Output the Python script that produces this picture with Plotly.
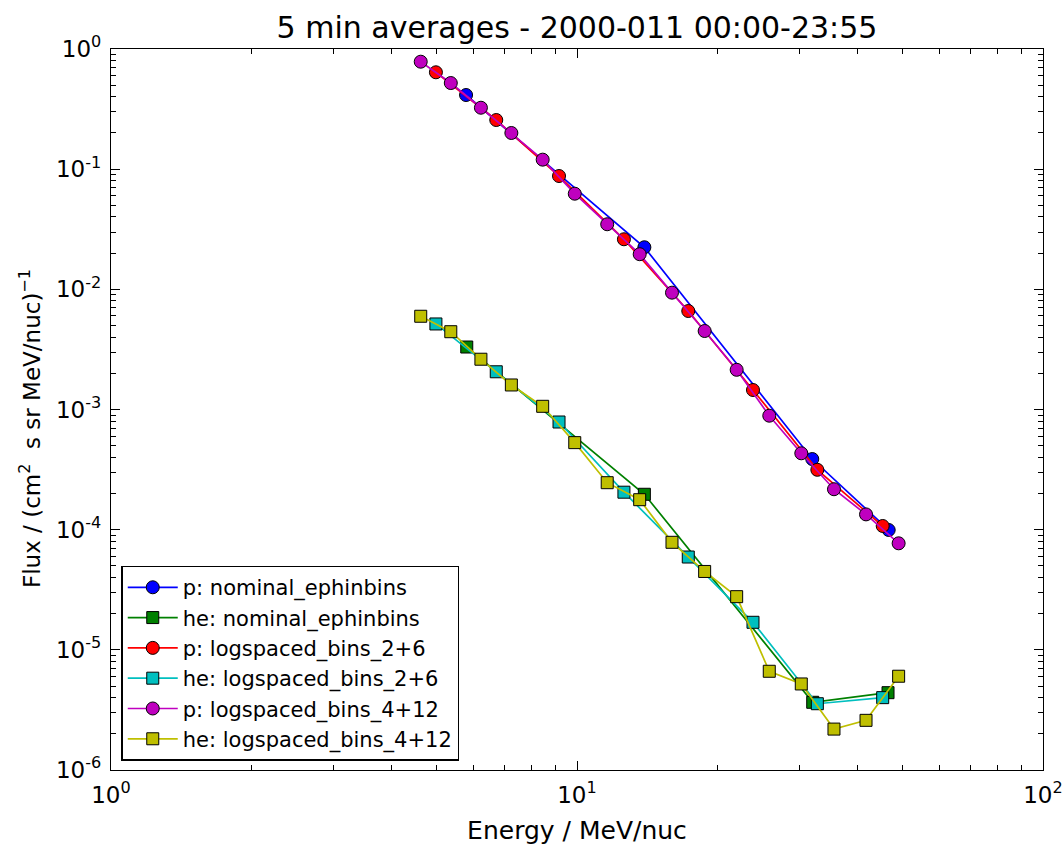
import plotly.graph_objects as go

# Proton, nominal EPHIN bins
p_nom_E = [5.78, 13.95, 31.98, 46.65]
p_nom_F = [0.414, 0.0224, 3.87e-4, 9.94e-5]

# Helium, nominal EPHIN bins
he_nom_E = [5.80, 13.95, 32.05, 46.5]
he_nom_F = [3.31e-3, 1.97e-4, 3.66e-6, 4.4e-6]

# Proton, logspaced 2+6
p_26_E = [4.98, 6.71, 9.15, 12.61, 17.33, 23.86, 32.79, 45.29]
p_26_F = [0.64, 0.2565, 0.0877, 0.0261, 0.0066, 1.453e-3, 3.15e-4, 1.073e-4]

# Helium, logspaced 2+6
he_26_E = [4.98, 6.71, 9.15, 12.61, 17.33, 23.86, 32.79, 45.29]
he_26_F = [5.15e-3, 2.06e-3, 7.87e-4, 2.05e-4, 5.92e-5, 1.695e-5, 3.56e-6, 4.0e-6]

# Proton, logspaced 4+12
p_412_E = [4.62, 5.36, 6.22, 7.23, 8.44, 9.89, 11.61, 13.63, 15.99, 18.79,
           22.01, 25.86, 30.29, 35.6, 41.71, 49.0]
p_412_F = [0.784, 0.521, 0.3246, 0.2, 0.12, 0.0625, 0.0348, 0.0196, 9.38e-3,
           4.5e-3, 2.14e-3, 8.88e-4, 4.32e-4, 2.17e-4, 1.34e-4, 7.7e-5]

# Helium, logspaced 4+12
he_412_E = p_412_E
he_412_F = [5.97e-3, 4.44e-3, 2.62e-3, 1.6e-3, 1.063e-3, 5.3e-4, 2.46e-4,
            1.776e-4, 7.85e-5, 4.49e-5, 2.77e-5, 6.63e-6, 5.2e-6, 2.19e-6,
            2.59e-6, 6.03e-6]

x_tickvals = [1, 10, 100]
x_ticktext = ["10<sup>0</sup>", "10<sup>1</sup>", "10<sup>2</sup>"]
y_tickvals = [1e-6, 1e-5, 1e-4, 1e-3, 1e-2, 1e-1, 1]
y_ticktext = ["10<sup>-6</sup>", "10<sup>-5</sup>", "10<sup>-4</sup>", "10<sup>-3</sup>",
              "10<sup>-2</sup>", "10<sup>-1</sup>", "10<sup>0</sup>"]
x_minor = [m * 10 ** d for d in range(0, 2) for m in range(2, 10)]
y_minor = [m * 10.0 ** d for d in range(-6, 0) for m in range(2, 10)]

series = [
    ("p: nominal_ephinbins", p_nom_E, p_nom_F, "#0000ff", "circle"),
    ("he: nominal_ephinbins", he_nom_E, he_nom_F, "#008000", "square"),
    ("p: logspaced_bins_2+6", p_26_E, p_26_F, "#ff0000", "circle"),
    ("he: logspaced_bins_2+6", he_26_E, he_26_F, "#00bfbf", "square"),
    ("p: logspaced_bins_4+12", p_412_E, p_412_F, "#bf00bf", "circle"),
    ("he: logspaced_bins_4+12", he_412_E, he_412_F, "#bfbf00", "square"),
]

fig = go.Figure()
for i, (name, xs, ys, col, sym) in enumerate(series):
    fig.add_trace(go.Scatter(
        x=xs, y=ys, name=name, mode="lines+markers",
        line=dict(color=col, width=1.7),
        marker=dict(symbol=sym, size=13 if sym == "circle" else 12, color=col,
                    line=dict(color="black", width=1)),
        legendgroup=f"g{i}",
    ))

def axis_common(minor_vals):
    return dict(
        type="log", showgrid=False, zeroline=False, automargin=False,
        showline=True, linecolor="black", linewidth=1.2, mirror="allticks",
        ticks="inside", ticklen=9, tickwidth=1, tickcolor="black",
        minor=dict(tickmode="array", tickvals=minor_vals, ticks="inside", ticklen=5,
                   tickwidth=1, tickcolor="black", showgrid=False),
        tickfont=dict(family="DejaVu Sans", size=23, color="black"),
    )

fig.update_xaxes(**axis_common(x_minor), range=[0, 2], tickvals=x_tickvals, ticktext=x_ticktext,
                 ticklabelstandoff=4,
                 title=dict(text="Energy / MeV/nuc", font=dict(family="DejaVu Sans", size=25, color="black"),
                            standoff=14))
fig.update_yaxes(**axis_common(y_minor), range=[-6, 0], tickvals=y_tickvals, ticktext=y_ticktext,
                 ticklabelstandoff=4)

fig.add_annotation(
    text="Flux / (cm<sup>2</sup>  s sr MeV/nuc)<sup>\u22121</sup>",
    xref="paper", yref="paper", x=(30 - 111) / 932, y=(770 - 429) / 721,
    xanchor="center", yanchor="middle", textangle=-90, showarrow=False,
    font=dict(family="DejaVu Sans", size=23, color="black"),
)

fig.update_layout(
    width=1064, height=845,
    margin=dict(l=111, r=21, t=49, b=75, autoexpand=False),
    paper_bgcolor="white", plot_bgcolor="white",
    title=dict(text="5 min averages - 2000-011 00:00-23:55", x=(111 + 1043) / 2 / 1064, xanchor="center",
               y=1 - 27 / 845, yanchor="middle",
               font=dict(family="DejaVu Sans", size=30, color="black")),
    legend=dict(x=0.011, y=0.013, xanchor="left", yanchor="bottom",
                bgcolor="white", bordercolor="black", borderwidth=1.5,
                font=dict(family="DejaVu Sans", size=21, color="black"),
                tracegroupgap=4, traceorder="normal", itemwidth=50),
    showlegend=True,
)

fig.write_html("out.html")
